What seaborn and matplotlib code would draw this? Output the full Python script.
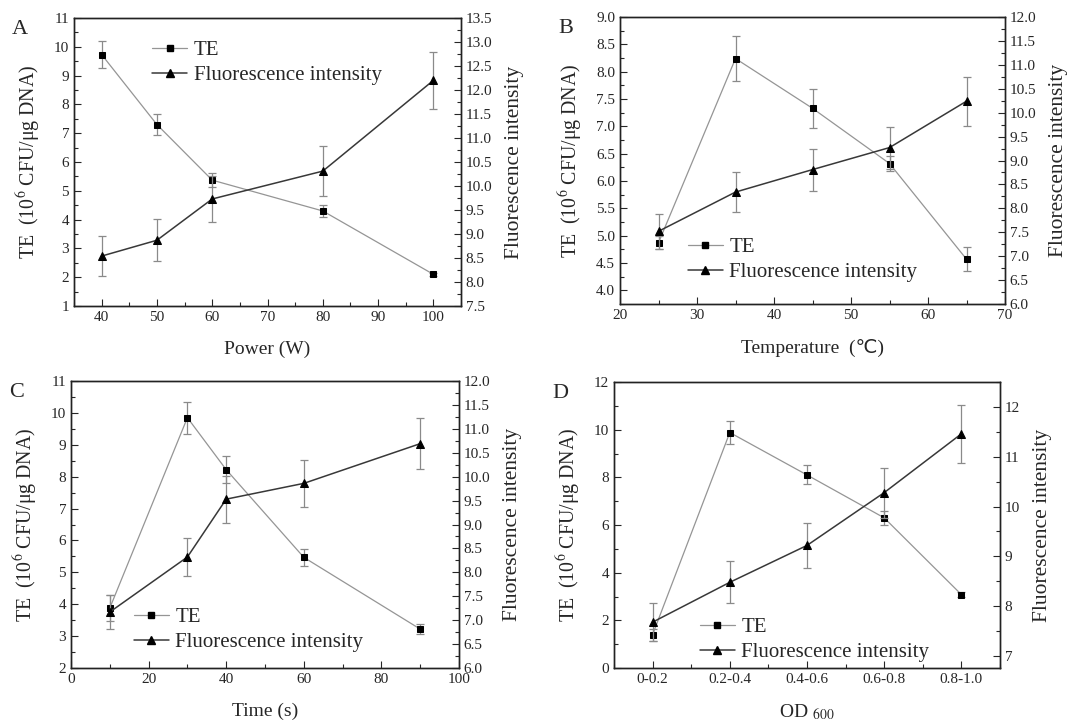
import pandas as pd
import matplotlib
matplotlib.use("Agg")
import matplotlib.pyplot as plt
import seaborn as sns
from matplotlib.ticker import AutoMinorLocator, MultipleLocator
from matplotlib.lines import Line2D

# A: power
power = [40, 50, 60, 80, 100]
power_te = [9.73, 7.30, 5.37, 4.30, 2.10]
power_te_err = [0.48, 0.35, 0.25, 0.20, 0.05]
power_fl = [8.54, 8.87, 9.73, 10.31, 12.20]
power_fl_err = [0.42, 0.44, 0.47, 0.52, 0.60]

# B: temperature
temp = [25, 35, 45, 55, 65]
temp_te = [4.87, 8.24, 7.33, 6.32, 4.57]
temp_te_err = [0.12, 0.41, 0.36, 0.14, 0.22]
temp_fl = [7.52, 8.34, 8.81, 9.27, 10.24]
temp_fl_err = [0.37, 0.41, 0.44, 0.44, 0.51]

# C: time
time_s = [10, 30, 40, 60, 90]
time_te = [3.88, 9.85, 8.22, 5.47, 3.22]
time_te_err = [0.40, 0.50, 0.42, 0.27, 0.15]
time_fl = [7.17, 8.32, 9.53, 9.86, 10.69]
time_fl_err = [0.36, 0.40, 0.49, 0.49, 0.53]

# D: OD600
od = ["0-0.2", "0.2-0.4", "0.4-0.6", "0.6-0.8", "0.8-1.0"]
od_te = [1.40, 9.88, 8.10, 6.30, 3.08]
od_te_err = [0.25, 0.48, 0.40, 0.30, 0.10]
od_fl = [7.68, 8.48, 9.22, 10.28, 11.46]
od_fl_err = [0.38, 0.42, 0.46, 0.50, 0.58]

sns.set_style("ticks")
plt.rcParams['font.family'] = ['Liberation Serif', 'DejaVu Sans']
plt.rcParams['mathtext.fontset'] = 'stix'

TE_COL = '#959595'
FL_COL = '#383838'
ERR_COL = '#8a8a8a'

fig = plt.figure(figsize=(10.69, 7.25), dpi=100)


def style_axis(ax, side):
    ax.tick_params(which='both', direction='in', labelsize=11, width=0.8,
                   top=False, right=(side == 'right'), left=(side == 'left'),
                   labelleft=(side == 'left'), labelright=(side == 'right'))
    ax.tick_params(which='major', length=5)
    ax.tick_params(which='minor', length=3)
    for s in ax.spines.values():
        s.set_linewidth(1.0)
        s.set_color('#222222')


def panel(rect, x, te, te_err, fl, fl_err, xlim, ylim, ylim2, xmaj, ymaj, ymaj2,
          xlabel, letter, leg_xy, cat=False):
    ax = fig.add_axes(rect)
    df = pd.DataFrame({'x': x, 'te': te, 'fl': fl})
    ax.errorbar(x, te, yerr=te_err, fmt='none', ecolor=ERR_COL, elinewidth=0.9,
                capsize=3, capthick=0.9, zorder=2)
    sns.lineplot(data=df, x='x', y='te', ax=ax, sort=False, color=TE_COL,
                 linewidth=0.9, marker='s', markersize=4.8, markerfacecolor='black',
                 markeredgecolor='black', zorder=3)
    ax2 = ax.twinx()
    ax2.errorbar(x, fl, yerr=fl_err, fmt='none', ecolor=ERR_COL, elinewidth=0.9,
                 capsize=3, capthick=0.9, zorder=2)
    sns.lineplot(data=df, x='x', y='fl', ax=ax2, sort=False, color=FL_COL,
                 linewidth=1.1, marker='^', markersize=5.8, markerfacecolor='black',
                 markeredgecolor='black', zorder=3)
    ax.set_xlim(*xlim)
    ax.set_ylim(*ylim)
    ax2.set_ylim(*ylim2)
    if not cat:
        ax.xaxis.set_major_locator(MultipleLocator(xmaj))
    ax.xaxis.set_minor_locator(AutoMinorLocator(2))
    ax.yaxis.set_major_locator(MultipleLocator(ymaj))
    ax.yaxis.set_minor_locator(AutoMinorLocator(2))
    ax2.yaxis.set_major_locator(MultipleLocator(ymaj2))
    ax2.yaxis.set_minor_locator(AutoMinorLocator(2))
    style_axis(ax, 'left')
    style_axis(ax2, 'right')
    ax.set_xlabel(xlabel, fontsize=14, labelpad=12)
    ax.set_ylabel('TE  (10$^{6}$ CFU/\u03bcg DNA)', fontsize=14.3, labelpad=8)
    ax2.set_ylabel('Fluorescence intensity', fontsize=15.5, labelpad=9)
    handles = [
        Line2D([], [], color=TE_COL, linewidth=0.9, marker='s', markersize=4.8,
               markerfacecolor='black', markeredgecolor='black'),
        Line2D([], [], color=FL_COL, linewidth=1.1, marker='^', markersize=5.8,
               markerfacecolor='black', markeredgecolor='black'),
    ]
    ax2.legend(handles, ['TE', 'Fluorescence intensity'], loc='upper left',
               bbox_to_anchor=leg_xy, frameon=False, fontsize=15,
               handlelength=1.7, handletextpad=0.3, labelspacing=0.25,
               borderaxespad=0)
    fig.text(rect[0] - 0.058, rect[1] + rect[3] - 0.022, letter, fontsize=16)
    return ax, ax2


W, H = 1069.0, 725.0


def rect(l, t, r, b):
    return [l / W, 1 - b / H, (r - l) / W, (b - t) / H]


panel(rect(74, 18, 461, 306), power, power_te, power_te_err, power_fl, power_fl_err,
      (35, 105), (1, 11), (7.5, 13.5), 10, 1, 0.5, 'Power (W)', 'A', (0.18, 0.95))

panel(rect(620, 17, 1005, 304), temp, temp_te, temp_te_err, temp_fl, temp_fl_err,
      (20, 70), (3.75, 9.0), (6.0, 12.0), 10, 0.5, 0.5, 'Temperature  (\u2103)', 'B',
      (0.154, 0.26))

panel(rect(71, 381, 459, 668), time_s, time_te, time_te_err, time_fl, time_fl_err,
      (0, 100), (2, 11), (6.0, 12.0), 20, 1, 0.5, 'Time (s)', 'C', (0.14, 0.24))

panel(rect(614, 382, 1000, 668), od, od_te, od_te_err, od_fl, od_fl_err,
      (-0.5, 4.5), (0, 12), (6.76, 12.5), 1, 2, 1, 'OD $_{\\mathrm{600}}$', 'D',
      (0.2, 0.205), cat=True)

fig.savefig('out.png', dpi=100)
